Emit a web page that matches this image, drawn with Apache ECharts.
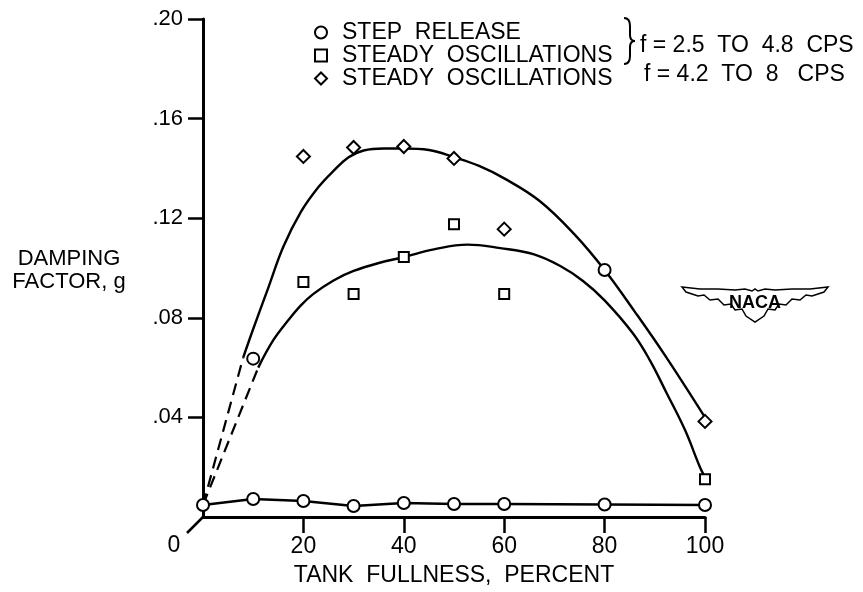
<!DOCTYPE html>
<html><head><meta charset="utf-8">
<script src="https://cdn.jsdelivr.net/npm/echarts@6/dist/echarts.min.js"></script>
<style>html,body{margin:0;padding:0;background:#fff}#c{width:863px;height:592px}</style>
</head><body><div id="c"></div>
<script>
const FONT = '"Liberation Sans", "DejaVu Sans", sans-serif';
const xTicks = [20, 40, 60, 80, 100];
const yTicks = [0.04, 0.08, 0.12, 0.16, 0.20];

// Step release (circles), lower faired line
const stepLowX = [0, 10, 20, 30, 40, 50, 60, 80, 100];
const stepLowY = [0.0048, 0.0072, 0.0064, 0.0044, 0.0056, 0.0052, 0.0052, 0.0050, 0.0048];
// Step release points on upper curves
const stepHighX = [10, 80];
const stepHighY = [0.0636, 0.0992];
// Steady oscillations f = 2.5 to 4.8 cps (squares)
const sqX = [20, 30, 40, 50, 60, 100];
const sqY = [0.0944, 0.0896, 0.1044, 0.1176, 0.0896, 0.0152];
// Steady oscillations f = 4.2 to 8 cps (diamonds)
const dmX = [20, 30, 40, 50, 60, 100];
const dmY = [0.1448, 0.1484, 0.1488, 0.1440, 0.1156, 0.0384];

// Faired curves
const upperCurveX = [8, 10, 13, 16, 19.5, 23, 26, 29, 32, 36, 40, 45, 50, 55, 60, 67, 74, 80, 86, 92, 100];
const upperCurveY = [0.064, 0.0755, 0.092, 0.1085, 0.1225, 0.1325, 0.139, 0.1445, 0.1472, 0.148, 0.148, 0.1474, 0.1445, 0.141, 0.136, 0.127, 0.1135, 0.0992, 0.0825, 0.065, 0.040];
const lowerCurveX = [11, 14, 16.9, 19.5, 22, 26, 30, 35, 40, 46, 52.7, 59.2, 65.8, 71, 75.7, 80, 85.7, 89, 92.4, 96, 99, 100];
const lowerCurveY = [0.060, 0.071, 0.0788, 0.085, 0.0896, 0.095, 0.0988, 0.102, 0.1044, 0.1075, 0.1094, 0.108, 0.1056, 0.101, 0.0948, 0.087, 0.0736, 0.063, 0.0496, 0.035, 0.020, 0.016];
const upperDashX = [0, 8];
const upperDashY = [0.0048, 0.064];
const lowerDashX = [0, 11];
const lowerDashY = [0.0048, 0.060];

const nameStep = 'STEP  RELEASE';
const nameSq = 'STEADY  OSCILLATIONS';
const nameDm = 'STEADY  OSCILLATIONS ';

const zip = (xs, ys) => xs.map((x, i) => [x, ys[i]]);
const ink = '#000';
const hollow = { color: '#fff', borderColor: ink, borderWidth: 2, opacity: 1 };
const FS = 23;

const chart = echarts.init(document.getElementById('c'), null, { renderer: 'canvas' });
const option = {
  animation: false,
  backgroundColor: '#fff',
  textStyle: { fontFamily: FONT, color: ink },
  grid: { left: 203, right: 158, top: 19, bottom: 75, outerBoundsMode: 'none', containLabel: false },
  legend: {
    orient: 'vertical', left: 309, top: 16, itemGap: 0,
    itemWidth: 12, itemHeight: 12,
    textStyle: { fontSize: FS, color: ink, fontFamily: FONT, padding: [0, 0, 0, 10] },
    itemStyle: { color: '#fff', borderColor: ink, borderWidth: 2 },
    selectedMode: false,
    data: [
      { name: nameStep, icon: 'circle' },
      { name: nameSq, icon: 'rect' },
      { name: nameDm, icon: 'diamond' }
    ]
  },
  xAxis: {
    type: 'value', min: 0, max: 100, interval: 20,
    name: 'TANK  FULLNESS,  PERCENT', nameLocation: 'middle', nameGap: 47,
    nameTextStyle: { fontSize: FS, color: ink, fontFamily: FONT },
    axisLine: { show: true, lineStyle: { color: ink, width: 3 } },
    axisTick: { show: true, customValues: xTicks, length: 16, lineStyle: { color: ink, width: 2.5 } },
    axisLabel: { customValues: xTicks, fontSize: FS, color: ink, margin: 18, fontFamily: FONT },
    splitLine: { show: false }
  },
  yAxis: {
    type: 'value', min: 0, max: 0.20, interval: 0.04,
    axisLine: { show: true, lineStyle: { color: ink, width: 3 } },
    axisTick: { show: true, customValues: yTicks, length: 15, lineStyle: { color: ink, width: 2.5 } },
    axisLabel: { customValues: yTicks, fontSize: 22, color: ink, margin: 20, fontFamily: FONT,
      formatter: v => v.toFixed(2).replace(/^0/, '') },
    splitLine: { show: false }
  },
  series: [
    { type: 'line', data: zip(upperCurveX, upperCurveY), smooth: 0.4, symbol: 'none',
      lineStyle: { color: ink, width: 2.4 }, z: 2 },
    { type: 'line', data: zip(lowerCurveX, lowerCurveY), smooth: 0.4, symbol: 'none',
      lineStyle: { color: ink, width: 2.4 }, z: 2 },
    { type: 'line', data: zip(upperDashX, upperDashY), symbol: 'none',
      lineStyle: { color: ink, width: 2.2, type: [12, 7] }, z: 2 },
    { type: 'line', data: zip(lowerDashX, lowerDashY), symbol: 'none',
      lineStyle: { color: ink, width: 2.2, type: [12, 7] }, z: 2 },
    { name: nameStep, type: 'line', data: zip(stepLowX, stepLowY), symbol: 'circle', symbolSize: 12,
      itemStyle: hollow, lineStyle: { color: ink, width: 2.5 }, z: 3 },
    { name: nameStep, type: 'scatter', data: zip(stepHighX, stepHighY), symbol: 'circle', symbolSize: 12,
      itemStyle: hollow, z: 4 },
    { name: nameSq, type: 'scatter', data: zip(sqX, sqY), symbol: 'rect', symbolSize: 10,
      itemStyle: hollow, z: 4 },
    { name: nameDm, type: 'scatter', data: zip(dmX, dmY), symbol: 'diamond', symbolSize: [13, 13],
      itemStyle: hollow, z: 4 }
  ]
};
chart.setOption(option);

const o = chart.convertToPixel({ gridIndex: 0 }, [0, 0]);
const wingPts = [
  [682,287],[700,289],[718,289],[735,290],[745,289],[752,291],[755,289],[758,291],[765,289],[775,290],[792,289],[810,289],[828,287],
  [824,292],[812,296],[806,295],[800,300],[792,299],[786,305],[779,304],[775,310],[768,309],[764,316],[755,322],
  [746,316],[742,309],[735,310],[731,304],[724,305],[718,299],[710,300],[704,295],[698,296],[686,292]
];
const braceStyle = { stroke: ink, lineWidth: 2, fill: null };
const bx = 624, by0 = 18, by1 = 64, bm = 41;
chart.setOption({
  graphic: [
    { type: 'line', shape: { x1: o[0], y1: o[1], x2: o[0] - 16, y2: o[1] + 16 },
      style: { stroke: ink, lineWidth: 2.5 } },
    { type: 'text', x: o[0] - 29, y: o[1] + 29,
      style: { text: '0', font: FS + 'px ' + FONT, fill: ink, textAlign: 'center', textVerticalAlign: 'middle' } },
    { type: 'text', x: 69, y: 270,
      style: { text: 'DAMPING\nFACTOR, g', font: '22px ' + FONT, fill: ink, textAlign: 'center',
        textVerticalAlign: 'middle', lineHeight: 23 } },
    { type: 'bezierCurve', shape: { x1: bx, y1: by0, cpx1: bx + 6, cpy1: by0, x2: bx + 6, y2: by0 + 8 }, style: braceStyle },
    { type: 'line', shape: { x1: bx + 6, y1: by0 + 8, x2: bx + 6, y2: bm - 6 }, style: braceStyle },
    { type: 'bezierCurve', shape: { x1: bx + 6, y1: bm - 6, cpx1: bx + 6, cpy1: bm, x2: bx + 11, y2: bm }, style: braceStyle },
    { type: 'bezierCurve', shape: { x1: bx + 11, y1: bm, cpx1: bx + 6, cpy1: bm, x2: bx + 6, y2: bm + 6 }, style: braceStyle },
    { type: 'line', shape: { x1: bx + 6, y1: bm + 6, x2: bx + 6, y2: by1 - 8 }, style: braceStyle },
    { type: 'bezierCurve', shape: { x1: bx + 6, y1: by1 - 8, cpx1: bx + 6, cpy1: by1, x2: bx, y2: by1 }, style: braceStyle },
    { type: 'text', x: 640, y: 46,
      style: { text: 'f = 2.5  TO  4.8  CPS', font: FS + 'px ' + FONT, fill: ink, textVerticalAlign: 'middle' } },
    { type: 'text', x: 644, y: 75,
      style: { text: 'f = 4.2  TO  8   CPS', font: FS + 'px ' + FONT, fill: ink, textVerticalAlign: 'middle' } },
    { type: 'polygon', shape: { points: wingPts }, style: { stroke: ink, lineWidth: 1.5, fill: '#fff' } },
    { type: 'text', x: 755, y: 303,
      style: { text: 'NACA', font: 'bold 18px ' + FONT, fill: ink, textAlign: 'center', textVerticalAlign: 'middle' } }
  ]
});
</script>
</body></html>
